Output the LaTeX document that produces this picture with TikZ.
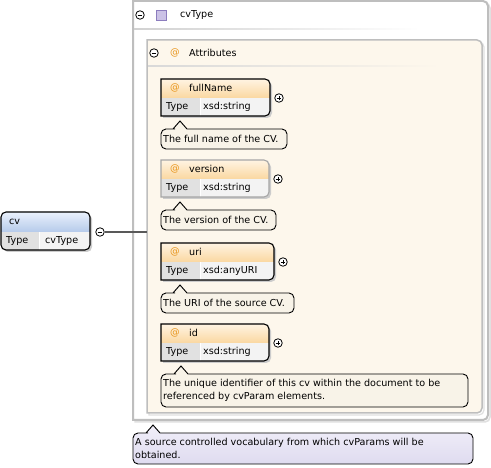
\documentclass[tikz,border=0pt]{standalone}
\usepackage{fontspec}
\setmainfont{DejaVu Sans}
\usetikzlibrary{positioning}
\definecolor{frame}{HTML}{BEBEBE}
\definecolor{attrbg}{HTML}{FDF7EC}
\definecolor{orangetop}{HTML}{FFF4E3}
\definecolor{orangebot}{HTML}{FAD7A0}
\definecolor{bluetop}{HTML}{EAF1FC}
\definecolor{bluebot}{HTML}{B5CAEA}
\definecolor{typecell}{HTML}{E1E1E1}
\definecolor{valcell}{HTML}{F3F3F3}
\definecolor{tipbg}{HTML}{F8F3E8}
\definecolor{liltop}{HTML}{F1EFF9}
\definecolor{lilbot}{HTML}{DFDBF0}
\definecolor{atsign}{HTML}{E8951C}
\definecolor{icon}{HTML}{CBC2E6}
\definecolor{iconline}{HTML}{8C7DBE}
\newcommand{\halfround}[5]{\path[#1] (#2,#3+#5/2) [sharp corners] -- (#2,#3) -- (#2+#4/2,#3) [rounded corners=5pt] -- (#2+#4,#3) -- (#2+#4,#3+#5) -- (#2+#4/2,#3+#5) [sharp corners] -- (#2,#3+#5) -- cycle;}
\newcommand{\pmplus}[3]{\node[pm] (#1) at (#2,#3) {};
  \draw ([xshift=-2.3pt]#1.center) -- ([xshift=2.3pt]#1.center) ([yshift=-2.3pt]#1.center) -- ([yshift=2.3pt]#1.center);}
\newcommand{\pmminus}[3]{\node[pm] (#1) at (#2,#3) {};
  \draw ([xshift=-2.3pt]#1.center) -- ([xshift=2.3pt]#1.center);}
\newcommand{\attrbox}[6]{%
  \halfround{fill=black!20}{#2+2}{#3+2}{#4}{37}
  \begin{scope}
    \halfround{clip}{#2}{#3}{#4}{37}
    \shade[top color=orangetop,bottom color=orangebot] (#2,#3) rectangle (#2+#4,#3+19);
    \fill[typecell] (#2,#3+19) rectangle (#2+39,#3+37);
    \fill[valcell] (#2+39,#3+19) rectangle (#2+#4,#3+37);
    \draw[white] (#2+39,#3+19) -- (#2+39,#3+37);
  \end{scope}
  \halfround{draw=#6,line width=1.1pt}{#2}{#3}{#4}{37}
  \node[lbl,text=atsign] at (#2+9,#3+9) {@};
  \node[lbl] (#1) at (#2+28,#3+9) {#1};
  \node[lbl] at (#2+5,#3+28) {Type};
  \node[lbl] at (#2+42,#3+28) {#5};
  \pmplus{#1-plus}{#2+#4+9}{#3+19}}
\newcommand{\tipbox}[8]{%
  \path[#8,draw,line width=0.9pt] (#2,#3+#5/2) [rounded corners=5pt] -- (#2,#3) -- (#6-10,#3) [sharp corners] -- (#6-7,#3) -- (#6,#3-8) -- (#6+7,#3) -- (#6+10,#3) [rounded corners=5pt] -- (#2+#4,#3) -- (#2+#4,#3+#5) -- (#2,#3+#5) -- cycle;
  \node[lbl,align=left] (#1) at (#2+2,#3+#5/2) {#7};}

\begin{document}
\begin{tikzpicture}[
  x=1pt,y=-1pt,
  font=\fontsize{9.6}{13}\selectfont,
  lbl/.style={anchor=west,inner sep=0pt},
  pm/.style={circle,draw,fill=white,inner sep=0pt,minimum size=8.5pt,line width=0.8pt},
  conn/.style={draw=black!65,line width=1.6pt}
]
\fill[white] (0,0) rectangle (491,468);
\useasboundingbox (0,0) rectangle (491,468);
\halfround{draw=black!12,line width=1.5pt}{135}{3}{355}{419}
\halfround{fill=white,draw=frame,line width=2pt}{133}{1}{355}{419}
\shade[left color=black!18,right color=white] (134,28.5) rectangle (420,29.5);
\pmminus{cvType-minus}{140}{15}
\filldraw[fill=icon,draw=iconline,line width=0.6pt] (156,10) rectangle (166,20);
\node[lbl] (cvType) at (180,15) {cvType};
\halfround{draw=black!12,line width=1.2pt}{149}{42}{335}{373}
\halfround{fill=attrbg,draw=frame,line width=1.5pt}{147}{40}{335}{373}
\shade[left color=black!15,right color=attrbg] (148,65.5) rectangle (440,66.5);
\pmminus{attrs-minus}{154}{53}
\node[lbl,text=atsign] at (170,53) {@};
\node[lbl] (attrs) at (189,53) {Attributes};
\attrbox{fullName}{161}{79}{109}{xsd:string}{black}
\tipbox{fullName-tip}{161}{129}{126}{20}{180}{The full name of the CV.}{fill=tipbg}
\attrbox{version}{161}{160}{108}{xsd:string}{black!35}
\tipbox{version-tip}{161}{210}{115}{20}{180}{The version of the CV.}{fill=tipbg}
\attrbox{uri}{161}{243}{113}{xsd:anyURI}{black}
\tipbox{uri-tip}{161}{293}{133}{20}{180}{The URI of the source CV.}{fill=tipbg}
\attrbox{id}{161}{324}{108}{xsd:string}{black}
\tipbox{id-tip}{161}{374}{307}{33}{181}{The unique identifier of this cv within the document to be\\referenced by cvParam elements.}{fill=tipbg}
\tipbox{cvType-tip}{133}{433}{340}{31}{153}{A source controlled vocabulary from which cvParams will be\\obtained.}{top color=liltop,bottom color=lilbot}
\fill[black!20,rounded corners=5pt] (3,214) rectangle (92,252);
\begin{scope}
  \clip[rounded corners=5pt] (1,212) rectangle (90,250);
  \shade[top color=bluetop,bottom color=bluebot] (1,212) rectangle (90,232);
  \fill[typecell] (1,232) rectangle (39,250);
  \fill[valcell] (39,232) rectangle (90,250);
  \draw[white] (39,232) -- (39,250);
\end{scope}
\draw[rounded corners=5pt,line width=1.1pt] (1,212) rectangle (90,250);
\node[lbl] (cv) at (9,222) {cv};
\node[lbl] at (6,241) {Type};
\node[lbl] at (45,241) {cvType};
\pmminus{cv-minus}{100}{232}
\coordinate (attrs-west) at (147,232);
\draw[conn] (cv-minus) -- (attrs-west);
\end{tikzpicture}
\end{document}
